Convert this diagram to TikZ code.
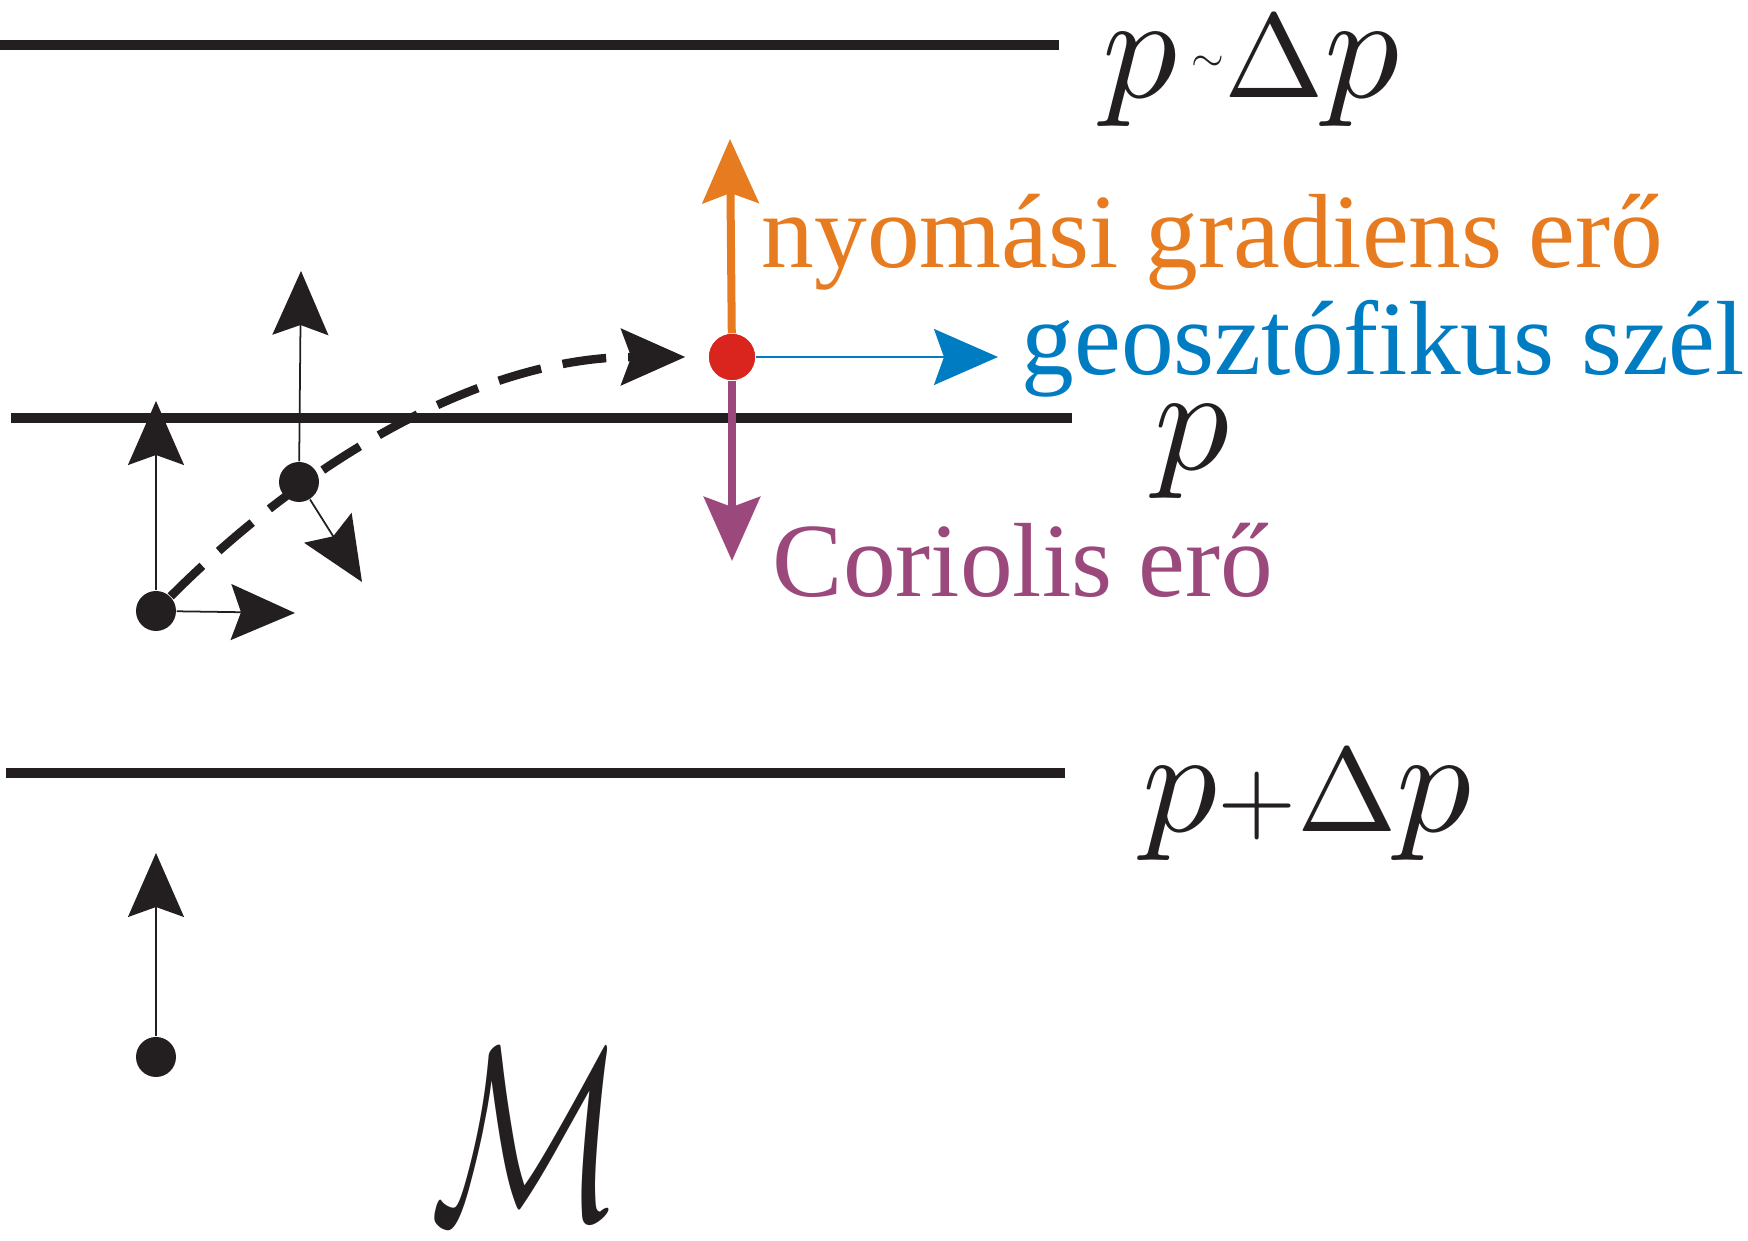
\documentclass[tikz,border=0pt]{standalone}
\usepackage{fontspec}
\setmainfont{Liberation Serif}
\usepackage{graphicx}
\usepackage{tikz}
\usetikzlibrary{arrows.meta}
\definecolor{inkcol} {RGB}{35,31,32}
\definecolor{gradcol}{RGB}{231,123,31}
\definecolor{windcol}{RGB}{0,124,195}
\definecolor{corcol} {RGB}{155,72,125}
\definecolor{dotcol} {RGB}{217,37,30}
\newcommand{\pvar}{\scalebox{4.25}{\normalsize$p$}}
\newcommand{\dvar}{\scalebox{3.4}{\normalsize$\Delta$}}

\begin{document}
\begin{tikzpicture}[
  lvl/.style={line width=0.1cm,inkcol},
  dot/.style={circle,fill=inkcol,inner sep=0pt,minimum size=0.4cm},
  rdot/.style={circle,fill=dotcol,inner sep=0pt,minimum size=0.46cm},
  fhead/.style={-{Stealth[length=0.64cm,width=0.56cm,inset=0.1cm]}},
  blkarr/.style={fhead,line width=0.5pt,inkcol},
  dasharr/.style={fhead,line width=0.085cm,inkcol,dash pattern=on 0.44cm off 0.22cm},
  gradarr/.style={fhead,line width=0.08cm,gradcol},
  windarr/.style={fhead,line width=0.6pt,windcol},
  corarr/.style={fhead,line width=0.08cm,corcol},
  plab/.style={anchor=base west,inner sep=0pt,inkcol,font=\fontsize{34}{40}\selectfont},
  flab/.style={anchor=base west,inner sep=0pt,font=\fontsize{30}{36}\selectfont}
]
\useasboundingbox (0,0) rectangle (17.48,12.41);
% isobaric levels
\draw[lvl] (0,11.96) -- (10.59,11.96);
\draw[lvl] (0.11,8.23) -- (10.72,8.23);
\draw[lvl] (0.06,4.68) -- (10.65,4.68);
\node[plab] (ptop) at (11.02,11.43)
  {\pvar\hspace{4pt}\raisebox{7.5pt}{\scalebox{1.2}{\normalsize$\sim$}}\dvar\pvar};
\node[plab] (pmid) at (11.54,7.71) {\pvar};
\node[plab] (pbot) at (11.42,4.09) {\pvar\scalebox{2.9}{\normalsize$+$}\dvar\pvar};
\node[plab] (mass) at (4.30,0.22) {\scalebox{4.55}[7.0]{\normalsize$\mathcal{M}$}};
% air parcels
\node[dot] (A) at (1.56,6.30) {};
\node[dot] (B) at (2.99,7.59) {};
\node[dot] (D) at (1.56,1.84) {};
\node[rdot] (C) at (7.32,8.84) {};
\coordinate (Aup) at (1.56,8.40);
\coordinate (Ar)  at (2.95,6.28);
\coordinate (Bup) at (3.01,9.70);
\coordinate (Bdr) at (3.62,6.59);
\coordinate (Dup) at (1.56,3.88);
\coordinate (Cup) at (7.30,11.02);
\coordinate (Cr)  at (9.98,8.84);
\coordinate (Cdn) at (7.32,6.80);
\draw[blkarr] (A) -- (Aup);
\draw[blkarr] (A) -- (Ar);
\draw[blkarr] (B) -- (Bup);
\draw[blkarr] (B) -- (Bdr);
\draw[blkarr] (D) -- (Dup);
\draw[dasharr,shorten >=0.23cm] (A) .. controls (3.12,7.86) and (4.86,8.84) .. (C);
% forces on the parcel
\draw[gradarr] (C) -- (Cup);
\draw[windarr] (C) -- (Cr);
\draw[corarr] (C) -- (Cdn);
\node[rdot] at (C) {};
\node[flab,gradcol] (lgrad) at (7.61,9.73) {nyomási gradiens erő};
\node[flab,windcol] (lwind) at (10.21,8.66) {geosztófikus szél};
\node[flab,corcol] (lcor) at (7.72,6.44) {Coriolis erő};
\end{tikzpicture}
\end{document}
